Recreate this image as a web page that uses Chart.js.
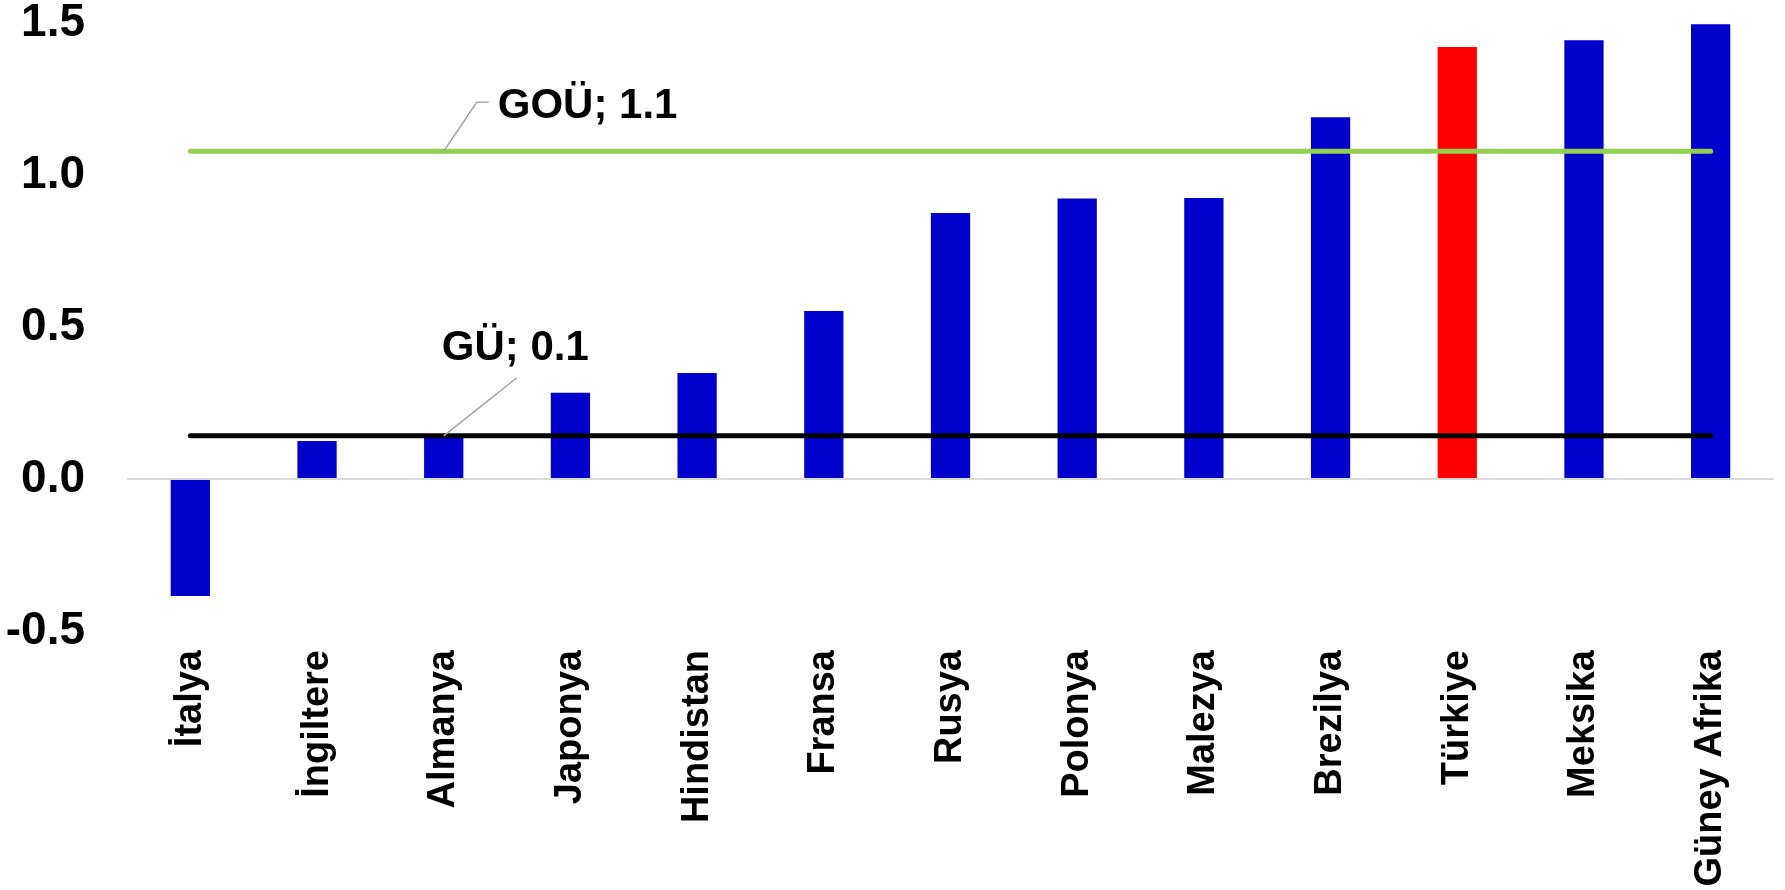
<!DOCTYPE html>
<html>
<head>
<meta charset="utf-8">
<script src="https://cdn.jsdelivr.net/npm/chart.js@4.4.0/dist/chart.umd.min.js"></script>
<style>
    html, body { margin: 0; padding: 0; background: #fff; }
    #wrap { width: 1785px; height: 890px; }
</style>
</head>
<body>
<div id="wrap"><canvas id="grafik"></canvas></div>
<script>
// Veriler
const ulkeler = ['İtalya', 'İngiltere', 'Almanya', 'Japonya', 'Hindistan', 'Fransa', 'Rusya',
    'Polonya', 'Malezya', 'Brezilya', 'Türkiye', 'Meksika', 'Güney Afrika'];
const degerler = [-0.385, 0.125, 0.14, 0.284, 0.349, 0.553, 0.875, 0.923, 0.924, 1.19, 1.421, 1.443, 1.496];
const guOrtalama = [0.142, 0.142, 0.142, 0.142, 0.142, 0.142, 0.142, 0.142, 0.142, 0.142, 0.142, 0.142, 0.142];
const gouOrtalama = [1.078, 1.078, 1.078, 1.078, 1.078, 1.078, 1.078, 1.078, 1.078, 1.078, 1.078, 1.078, 1.078];
const yTikleri = [-0.5, 0.0, 0.5, 1.0, 1.5];

const FONT = '"Liberation Sans", Arial, sans-serif';
const barRenkleri = ulkeler.map(u => u === 'Türkiye' ? '#FF0000' : '#0000CC');

// Çizgi etiketleri (lider çizgili)
const etiketPlugin = {
    id: 'etiketler',
    afterDatasetsDraw(chart) {
        const ctx = chart.ctx;
        const etiketler = [
            { ds: 2, metin: 'GOÜ; 1.1', kirik: [33, -49, 45, -49], tx: 54, ty: -45 },
            { ds: 1, metin: 'GÜ; 0.1', kirik: [73, -58], tx: -2, ty: -87 }
        ];
        ctx.save();
        etiketler.forEach(e => {
            const p = chart.getDatasetMeta(e.ds).data[2];
            ctx.strokeStyle = '#A6A6A6';
            ctx.lineWidth = 1.5;
            ctx.beginPath();
            ctx.moveTo(p.x, p.y);
            for (let i = 0; i < e.kirik.length; i += 2) {
                ctx.lineTo(p.x + e.kirik[i], p.y + e.kirik[i + 1]);
            }
            ctx.stroke();
            ctx.fillStyle = '#000';
            ctx.font = 'bold 42px ' + FONT;
            ctx.textAlign = 'left';
            ctx.textBaseline = 'middle';
            ctx.fillText(e.metin, p.x + e.tx, p.y + e.ty);
        });
        ctx.restore();
    }
};

new Chart(document.getElementById('grafik'), {
    type: 'bar',
    data: {
        labels: ulkeler,
        datasets: [
            {
                type: 'bar',
                data: degerler,
                backgroundColor: barRenkleri,
                barPercentage: 0.31,
                categoryPercentage: 1.0,
                order: 3
            },
            {
                type: 'line',
                data: guOrtalama,
                borderColor: '#000000',
                borderWidth: 5,
                borderCapStyle: 'round',
                pointRadius: 0,
                order: 1
            },
            {
                type: 'line',
                data: gouOrtalama,
                borderColor: '#92D050',
                borderWidth: 5,
                borderCapStyle: 'round',
                pointRadius: 0,
                order: 2
            }
        ]
    },
    options: {
        responsive: true,
        maintainAspectRatio: false,
        animation: false,
        layout: { padding: { top: 0, right: 11, bottom: 0, left: 0 } },
        plugins: {
            legend: { display: false },
            tooltip: { enabled: false }
        },
        scales: {
            x: {
                grid: { display: false },
                border: { display: false },
                ticks: {
                    color: '#000',
                    font: { family: FONT, size: 38, weight: 'bold' },
                    minRotation: 90,
                    maxRotation: 90,
                    autoSkip: false,
                    padding: 11
                },
                afterFit: (scale) => { scale.height = 259; }
            },
            y: {
                min: -0.5,
                max: 1.5,
                afterBuildTicks: (scale) => { scale.ticks = yTikleri.map(v => ({ value: v })); },
                grid: {
                    drawTicks: false,
                    lineWidth: 2,
                    color: (c) => c.tick && c.tick.value === 0 ? '#D9D9D9' : 'rgba(0,0,0,0)'
                },
                border: { display: false },
                ticks: {
                    color: '#000',
                    font: { family: FONT, size: 46, weight: 'bold' },
                    padding: 42,
                    callback: (v) => Number(v).toFixed(1)
                },
                afterFit: (scale) => { scale.width = 127; scale.paddingTop = 23; }
            }
        }
    },
    plugins: [etiketPlugin]
});
</script>
</body>
</html>
